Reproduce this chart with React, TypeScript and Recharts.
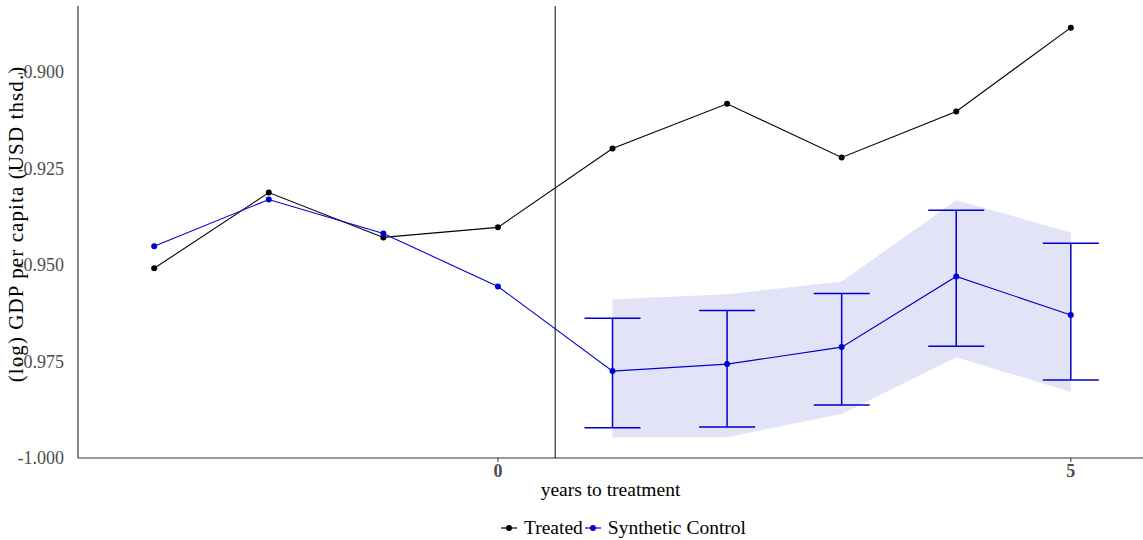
import React from "react";
import {
  Area,
  ComposedChart,
  ErrorBar,
  Legend,
  Line,
  ReferenceLine,
  XAxis,
  YAxis,
} from "recharts";

const years = [-3, -2, -1, 0, 1, 2, 3, 4, 5];
const treated = [-0.9509, -0.9313, -0.9429, -0.9403, -0.9199, -0.9083, -0.9222, -0.9103, -0.8886];
const synthetic = [-0.9452, -0.9331, -0.9419, -0.9556, -0.9775, -0.9757, -0.9713, -0.953, -0.963];
// post-treatment intervals (null before treatment)
const errLow = [null, null, null, null, -0.9922, -0.992, -0.9863, -0.9711, -0.9798];
const errHigh = [null, null, null, null, -0.9638, -0.9618, -0.9574, -0.9359, -0.9444];
const bandLow = [null, null, null, null, -0.9946, -0.9946, -0.9886, -0.9739, -0.9829];
const bandHigh = [null, null, null, null, -0.9589, -0.9576, -0.9543, -0.9333, -0.9416];
const yTicks = [-1.0, -0.975, -0.95, -0.925, -0.9];
const xTicks = [0, 5];

const data = years.map((t, i) => ({
  t,
  treated: treated[i],
  synthetic: synthetic[i],
  err:
    errLow[i] == null
      ? undefined
      : [synthetic[i] - (errLow[i] as number), (errHigh[i] as number) - synthetic[i]],
  band: bandLow[i] == null ? undefined : [bandLow[i], bandHigh[i]],
}));

const FONT = "'Liberation Serif', serif";

const LegendContent = () => (
  <div
    style={{
      display: "flex",
      justifyContent: "center",
      fontFamily: FONT,
      fontSize: 19.5,
      color: "#000",
      paddingTop: 9,
      paddingLeft: 104,
    }}
  >
    {[
      { name: "Treated", color: "#000000" },
      { name: "Synthetic Control", color: "#0000cd" },
    ].map((d) => (
      <span key={d.name} style={{ display: "inline-flex", alignItems: "center", marginRight: 1 }}>
        <svg width={18} height={10} style={{ marginRight: 6 }}>
          <line x1={1} y1={5} x2={17} y2={5} stroke={d.color} strokeWidth={1.2} />
          <circle cx={9} cy={5} r={3} fill={d.color} />
        </svg>
        {d.name}
      </span>
    ))}
  </div>
);

export default function App() {
  return (
    <div style={{ position: "absolute", left: 0, top: 0, width: 1143, height: 540, background: "#fff" }}>
      <ComposedChart
        width={1143}
        height={540}
        data={data}
        margin={{ top: 6, right: 0, bottom: 0, left: 0 }}
      >
        <XAxis
          dataKey="t"
          type="number"
          domain={[-3.665, 5.63]}
          ticks={xTicks}
          allowDataOverflow
          axisLine={{ stroke: "#333", strokeWidth: 1.2 }}
          tickLine={{ stroke: "#333" }}
          tickSize={4}
          tick={{ fill: "#4d4d4d", fontFamily: FONT, fontSize: 18, fontWeight: "bold" }}
          height={50}
          label={{
            value: "years to treatment",
            position: "insideBottom",
            offset: 12,
            fill: "#000",
            fontFamily: FONT,
            fontSize: 19.5,
          }}
        />
        <XAxis
          xAxisId="top"
          orientation="top"
          dataKey="t"
          type="number"
          domain={[-3.665, 5.63]}
          tick={false}
          tickLine={false}
          height={0}
          axisLine={{ stroke: "#333", strokeWidth: 1.2 }}
        />
        <YAxis
          type="number"
          domain={[-1.0, -0.883]}
          ticks={yTicks}
          allowDataOverflow
          width={78}
          axisLine={{ stroke: "#333", strokeWidth: 1.2 }}
          tickLine={false}
          tickMargin={8}
          tickFormatter={(v: number) => v.toFixed(3)}
          tick={{ fill: "#4d4d4d", fontFamily: FONT, fontSize: 18 }}
          label={{
            value: "(log) GDP per capita (USD thsd.)",
            angle: -90,
            position: "insideLeft",
            offset: 16,
            dy: -8,
            textAnchor: "middle",
            fill: "#000",
            fontFamily: FONT,
            fontSize: 21,
            letterSpacing: 1.1,
          }}
        />
        <Legend verticalAlign="bottom" height={32} content={<LegendContent />} />
        <ReferenceLine x={0.5} stroke="#333" strokeWidth={1.2} />
        <Area
          dataKey="band"
          type="linear"
          stroke="none"
          fill="#e3e3f8"
          fillOpacity={1}
          isAnimationActive={false}
          legendType="none"
          connectNulls={false}
        />
        <Line
          dataKey="treated"
          type="linear"
          stroke="#000"
          strokeWidth={1.1}
          dot={{ r: 3, fill: "#000", stroke: "#000", strokeWidth: 0 }}
          activeDot={false}
          isAnimationActive={false}
        />
        <Line
          dataKey="synthetic"
          type="linear"
          stroke="#0000cd"
          strokeWidth={1.1}
          dot={{ r: 3, fill: "#0000cd", stroke: "#0000cd", strokeWidth: 0 }}
          activeDot={false}
          isAnimationActive={false}
        >
          <ErrorBar
            dataKey="err"
            direction="y"
            width={28}
            stroke="#0000cd"
            strokeWidth={1.5}
            isAnimationActive={false}
          />
        </Line>
      </ComposedChart>
    </div>
  );
}
